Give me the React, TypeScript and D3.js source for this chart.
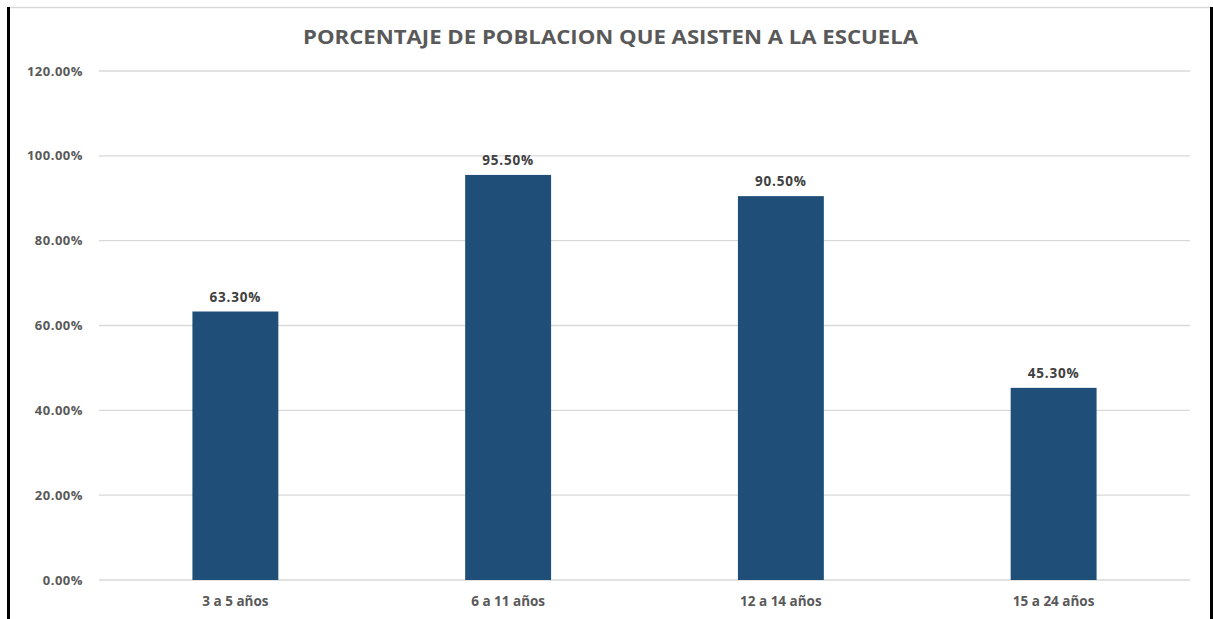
import React from "react";
import * as d3 from "d3";

const categories = ["3 a 5 años", "6 a 11 años", "12 a 14 años", "15 a 24 años"];
const values = [63.3, 95.5, 90.5, 45.3];
const yTicks = [0, 20, 40, 60, 80, 100, 120];
const title = "PORCENTAJE DE POBLACION QUE ASISTEN A LA ESCUELA";

const W = 1213;
const H = 619;
const M = { left: 99, right: 1190, top: 71, bottom: 580 };

export default function App() {
  const x = d3.scaleBand<string>().domain(categories).range([M.left, M.right]).paddingInner(0.685).paddingOuter(0.3425);
  const y = d3.scaleLinear().domain([0, 120]).range([M.bottom, M.top]);
  const font = "'Open Sans', 'Noto Sans', sans-serif";
  const grey = "#595959";
  return (
    <svg width={W} height={H} style={{ position: "absolute", left: 0, top: 0, background: "#fff" }} fontFamily={font}>
      <rect x={0} y={0} width={W} height={H} fill="#fff" />
      <line x1={8} x2={1211} y1={7.5} y2={7.5} stroke="#d9d9d9" strokeWidth={1.5} />
      <line x1={8.5} x2={8.5} y1={7} y2={H} stroke="#000" strokeWidth={3} />
      <line x1={1211.5} x2={1211.5} y1={7} y2={H} stroke="#000" strokeWidth={3} />
      <text x={610.5} y={44} textAnchor="middle" fontSize={20} fontWeight="bold" fill={grey} textLength={615} lengthAdjust="spacingAndGlyphs">
        {title}
      </text>
      {yTicks.map((t) => (
        <g key={t}>
          <line x1={M.left} x2={M.right} y1={y(t)} y2={y(t)} stroke="#d9d9d9" strokeWidth={1.3} />
          <text x={83} y={y(t)} dy="0.35em" textAnchor="end" fontSize={13} fontWeight="bold" fill={grey} letterSpacing={0.5}>
            {t.toFixed(2) + "%"}
          </text>
        </g>
      ))}
      {categories.map((c, i) => (
        <g key={c}>
          <rect x={x(c)} y={y(values[i])} width={x.bandwidth()} height={y(0) - y(values[i])} fill="#1F4E79" />
          <text x={(x(c) as number) + x.bandwidth() / 2} y={y(values[i]) - 10} textAnchor="middle" fontSize={13.5} fontWeight="bold" fill="#404040" letterSpacing={0.8}>
            {values[i].toFixed(2) + "%"}
          </text>
          <text x={(x(c) as number) + x.bandwidth() / 2} y={606} textAnchor="middle" fontSize={13.5} fontWeight="bold" fill={grey}>
            {c}
          </text>
        </g>
      ))}
    </svg>
  );
}
